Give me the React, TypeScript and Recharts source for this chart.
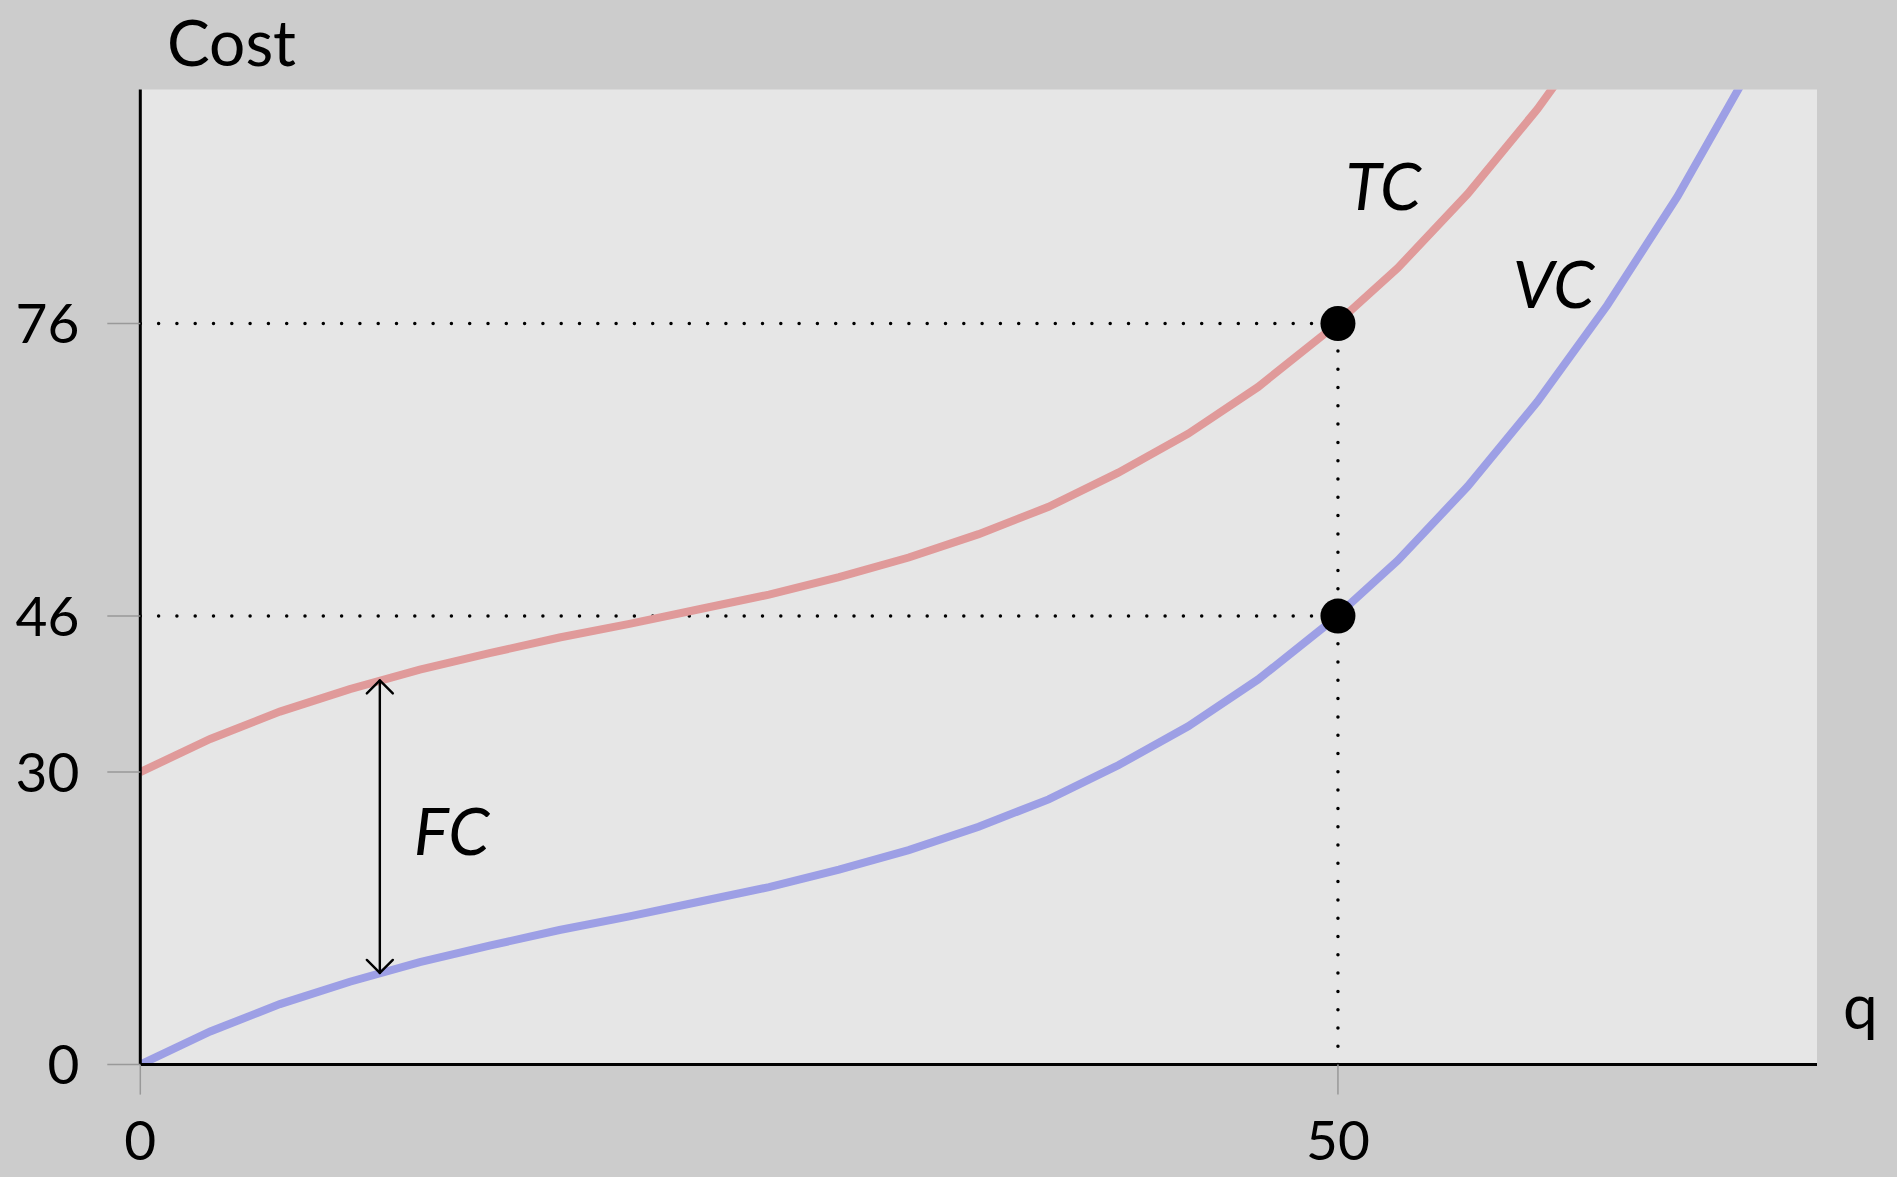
import { LineChart, Line, XAxis, YAxis, CartesianGrid, ReferenceLine, ReferenceDot, Customized } from 'recharts';

const qValues = [0, 2.92, 5.83, 8.75, 11.67, 14.58, 17.5, 20.42, 23.33, 26.25, 29.17, 32.08, 35, 37.92, 40.83, 43.75, 46.67, 49.58, 52.5, 55.42, 58.33, 61.25, 64.17, 67.08, 70];
const vcValues = [0, 3.4, 6.2, 8.5, 10.5, 12.2, 13.8, 15.2, 16.7, 18.2, 20.0, 22.0, 24.4, 27.2, 30.7, 34.7, 39.5, 45.2, 51.7, 59.3, 68.0, 77.9, 89.0, 101.6, 115.6];
const tcValues = [30, 33.4, 36.2, 38.5, 40.5, 42.2, 43.8, 45.2, 46.7, 48.2, 50.0, 52.0, 54.4, 57.2, 60.7, 64.7, 69.5, 75.2, 81.7, 89.3, 98.0, 107.9, 119.0, 131.6, 145.6];

const xTicks = [0, 50];
const yTicks = [0, 30, 46, 76];

const markedQ = 50;
const markedTC = 76;
const markedVC = 46;

const fcQ = 10;
const fcFrom = 9.4;
const fcTo = 39.4;

const data = qValues.map((q, i) => ({ q, vc: vcValues[i], tc: tcValues[i] }));

const font = "Lato, 'Noto Sans', sans-serif";
const dotted = { stroke: '#000', strokeWidth: 3.5, strokeDasharray: '0 18.3', strokeLinecap: 'round' as const };

const FcArrow = (props: any) => {
  const { x1, y1, x2, y2 } = props;
  const top = Math.min(y1, y2);
  const bottom = Math.max(y1, y2);
  return (
    <g stroke="#000" strokeWidth={2.4} fill="none" strokeLinecap="round" strokeLinejoin="round">
      <line x1={x1} y1={top} x2={x2} y2={bottom} />
      <polyline points={`${x1 - 13},${top + 13} ${x1},${top} ${x1 + 13},${top + 13}`} />
      <polyline points={`${x1 - 13},${bottom - 13} ${x1},${bottom} ${x1 + 13},${bottom - 13}`} />
    </g>
  );
};

const AxisNames = () => (
  <g fontFamily={font} fill="#000">
    <text x={167} y={66} fontSize={64}>Cost</text>
    <text x={1843} y={1029} fontSize={62}>q</text>
  </g>
);

const italicLabel = (value: string) => ({
  value,
  position: 'center' as const,
  fontSize: 66,
  fontStyle: 'italic',
  fontFamily: font,
  fill: '#000',
});

export default function App() {
  return (
    <div style={{ position: 'absolute', left: 0, top: 0, width: 1897, height: 1177, background: '#cccccc' }}>
      <LineChart
        width={1897}
        height={1177}
        data={data}
        margin={{ top: 89.5, right: 80, left: 80.3, bottom: 82.4 }}
      >
        <CartesianGrid fill="#e6e6e6" horizontal={false} vertical={false} />
        <XAxis
          dataKey="q"
          type="number"
          domain={[0, 70]}
          ticks={xTicks}
          allowDataOverflow
          height={30}
          tickSize={30}
          tickMargin={26}
          axisLine={{ stroke: '#000', strokeWidth: 3 }}
          tickLine={{ stroke: '#999', strokeWidth: 1.5 }}
          tick={{ fill: '#000', fontSize: 55, fontFamily: font }}
        />
        <YAxis
          type="number"
          domain={[0, 100]}
          ticks={yTicks}
          allowDataOverflow
          width={60}
          tickSize={33}
          tickMargin={28}
          axisLine={{ stroke: '#000', strokeWidth: 3 }}
          tickLine={{ stroke: '#999', strokeWidth: 1.5 }}
          tick={{ fill: '#000', fontSize: 55, fontFamily: font }}
        />
        <ReferenceLine segment={[{ x: 0, y: markedTC }, { x: markedQ, y: markedTC }]} {...dotted} />
        <ReferenceLine segment={[{ x: 0, y: markedVC }, { x: markedQ, y: markedVC }]} {...dotted} />
        <ReferenceLine segment={[{ x: markedQ, y: 0 }, { x: markedQ, y: markedTC }]} {...dotted} />
        <Line dataKey="tc" type="linear" stroke="#e09a9a" strokeWidth={8} dot={false} activeDot={false} isAnimationActive={false} />
        <Line dataKey="vc" type="linear" stroke="#9d9fe5" strokeWidth={8} dot={false} activeDot={false} isAnimationActive={false} />
        <ReferenceLine segment={[{ x: fcQ, y: fcFrom }, { x: fcQ, y: fcTo }]} shape={FcArrow} />
        <ReferenceDot x={markedQ} y={markedTC} r={17.5} fill="#000" stroke="none" />
        <ReferenceDot x={markedQ} y={markedVC} r={17.5} fill="#000" stroke="none" />
        <ReferenceDot x={51.9} y={90} r={0} label={italicLabel('TC')} />
        <ReferenceDot x={59.0} y={80} r={0} label={italicLabel('VC')} />
        <ReferenceDot x={13.0} y={23.9} r={0} label={italicLabel('FC')} />
        <Customized component={AxisNames} />
      </LineChart>
    </div>
  );
}
